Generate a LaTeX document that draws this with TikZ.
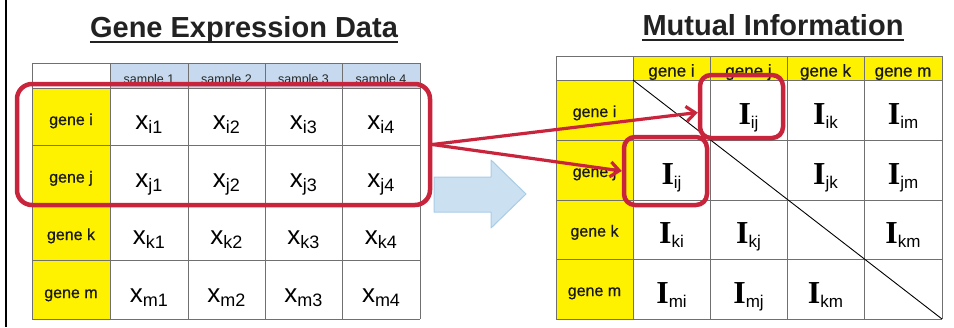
\documentclass[tikz,border=0pt]{standalone}
\usepackage{fontspec}
\setmainfont{Liberation Sans}
\newfontfamily\romanI{Liberation Serif}
\newfontfamily\gothic[FakeBold=0.6]{Liberation Sans}
\usetikzlibrary{arrows.meta}

\definecolor{hiyellow}{HTML}{FFF200}
\definecolor{hdrblue}{HTML}{C6D9EE}
\definecolor{selred}{HTML}{C8243C}
\definecolor{flowblue}{HTML}{CBE1F2}
\definecolor{flowedge}{HTML}{A9CCE6}
\definecolor{gridgray}{HTML}{707070}
\definecolor{titleink}{HTML}{222222}

% expression value x_{..} and mutual information value I_{..}
\newcommand{\xval}[1]{{\fontsize{26}{26}\selectfont x}\raisebox{-4pt}{\fontsize{18}{18}\selectfont #1}}
\newcommand{\mival}[1]{{\romanI\bfseries\fontsize{32}{32}\selectfont I}\raisebox{-4pt}{\fontsize{17}{17}\selectfont #1}}

\begin{document}
\begin{tikzpicture}[x=1pt, y=-1pt,
  title/.style={font=\fontsize{29}{30}\selectfont\bfseries, text=titleink, inner sep=0, anchor=base},
  genelbl/.style={font=\gothic\fontsize{16}{16}\selectfont, text=black!90, anchor=base, inner sep=0},
  hdrlbl/.style={font=\gothic\fontsize{17}{17}\selectfont, text=black!90, anchor=base, inner sep=0},
  smplbl/.style={font=\fontsize{12.5}{13}\selectfont, text=black!85, anchor=base, inner sep=0},
  val/.style={anchor=base, inner sep=0},
  gridln/.style={draw=gridgray, line width=0.8pt},
  selbox/.style={draw=selred, line width=4.5pt, rounded corners=11pt, inner sep=0},
  selarrow/.style={draw=selred, line width=3.2pt, -{Straight Barb[length=9pt,width=15pt]}},
]
\useasboundingbox (0,0) rectangle (954,327);
\fill[white] (0,0) rectangle (954,327);

% frame line on the left
\draw[line width=1.8pt] (6,0) -- (6,327);

% ---------- titles ----------
\node[title] (ttlL) at (244,37) {Gene Expression Data};
\draw[titleink, line width=2pt] ([yshift=-4.8pt]ttlL.base west) -- ([yshift=-4.8pt]ttlL.base east);
\node[title] (ttlR) at (773,35.5) {Mutual Information};
\draw[titleink, line width=2pt] ([yshift=-4.8pt]ttlR.base west) -- ([yshift=-4.8pt]ttlR.base east);

% ---------- expression table ----------
\fill[hdrblue] (110,63) rectangle (420,88);
\fill[hiyellow] (32,88) rectangle (110,319);
\foreach \xx in {32,110,188,265,342,420} \draw[gridln] (\xx,63) -- (\xx,319);
\foreach \yy in {63,88,145,203,260,319} \draw[gridln] (32,\yy) -- (420,\yy);

\foreach \s/\xc in {1/149, 2/226.5, 3/303.5, 4/381}
  \node[smplbl] (Ls-\s) at (\xc,83) {sample \s};

\foreach \g/\yc in {i/116.5, j/174, k/231.5, m/289.5} {
  \node[genelbl] (Lg-\g) at (71,\yc+8.5) {gene \g};
  \foreach \s/\xc in {1/149, 2/226.5, 3/303.5, 4/381}
    \node[val] (L-\g\s) at (\xc,\yc+13) {\xval{\g\s}};
}

% ---------- mutual information table ----------
\fill[hiyellow] (633,56) rectangle (942,80);
\fill[hiyellow] (556,80) rectangle (633,319);
\foreach \xx in {556,633,710,787,864,942} \draw[gridln] (\xx,56) -- (\xx,319);
\foreach \yy in {56,80,140,200,259,319} \draw[gridln] (556,\yy) -- (942,\yy);
\draw[line width=0.9pt] (633,80) -- (942,319);

\foreach \g/\xc in {i/671.5, j/748.5, k/825.5, m/903}
  \node[hdrlbl] (Rh-\g) at (\xc,76.5) {gene \g};
\foreach \g/\yc in {i/110, j/170, k/229.5, m/289}
  \node[genelbl] (Rg-\g) at (594.5,\yc+7) {gene \g};

\node[val] (R-ij) at (748.5,124) {\mival{ij}};
\node[val] (R-ik) at (825.5,124) {\mival{ik}};
\node[val] (R-im) at (903,124)   {\mival{im}};
\node[val] (R-ji) at (671.5,184) {\mival{ij}};
\node[val] (R-jk) at (825.5,184) {\mival{jk}};
\node[val] (R-jm) at (903,184)   {\mival{jm}};
\node[val] (R-ki) at (671.5,243.5) {\mival{ki}};
\node[val] (R-kj) at (748.5,243.5) {\mival{kj}};
\node[val] (R-km) at (903,243.5)   {\mival{km}};
\node[val] (R-mi) at (671.5,303) {\mival{mi}};
\node[val] (R-mj) at (748.5,303) {\mival{mj}};
\node[val] (R-mk) at (825.5,303) {\mival{km}};

% ---------- transformation arrow ----------
\filldraw[fill=flowblue, draw=flowedge, line width=1pt, line join=round]
  (434,177) -- (491,177) -- (491,160) -- (526,194) -- (491,228) -- (491,212) -- (434,212) -- cycle;

% ---------- selections and links ----------
\node[selbox, rounded corners=15pt, minimum width=413pt, minimum height=121pt] (selL) at (223.5,144.5) {};
\node[selbox, minimum width=83pt, minimum height=63pt] (box1) at (741.5,106.5) {};
\node[selbox, minimum width=83pt, minimum height=68pt] (box2) at (665.5,171) {};

\draw[selarrow] (selL.east) -- ([yshift=-6pt]box1.west);
\draw[selarrow] (selL.east) -- (box2.west);
\end{tikzpicture}
\end{document}
